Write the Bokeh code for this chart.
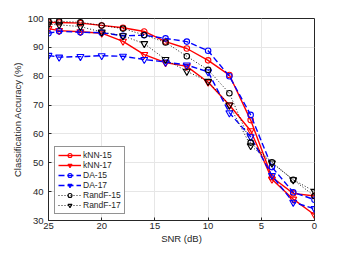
from bokeh.plotting import figure
from bokeh.models import Range1d, FixedTicker
from bokeh.embed import file_html
from bokeh.resources import INLINE

snr = [25, 24, 22, 20, 18, 16, 14, 12, 10, 8, 6, 4, 2, 0]
knn15 = [98.6, 98.6, 98.4, 97.6, 96.8, 95.5, 92.0, 89.6, 85.5, 80.4, 64.8, 45.0, 39.4, 38.5]
knn17 = [96.5, 95.8, 95.4, 94.9, 92.1, 87.5, 84.7, 83.4, 77.9, 70.0, 61.1, 44.3, 37.4, 32.0]
da15 = [94.9, 95.6, 95.2, 95.1, 94.0, 94.2, 93.1, 92.0, 88.8, 80.0, 66.6, 48.5, 39.8, 37.2]
da17 = [87.2, 86.6, 86.8, 87.1, 86.9, 85.8, 84.9, 83.9, 81.5, 67.3, 59.0, 45.6, 36.3, 34.1]
rf15 = [99.0, 99.0, 98.7, 97.6, 96.5, 94.3, 91.7, 86.9, 82.2, 74.1, 57.0, 50.2, 44.1, 38.5]
rf17 = [98.0, 97.8, 97.2, 95.3, 94.0, 91.3, 85.8, 81.7, 78.2, 70.0, 55.9, 49.9, 44.1, 40.1]

x_ticks = [25, 20, 15, 10, 5, 0]
y_ticks = [30, 40, 50, 60, 70, 80, 90, 100]

FONT = "Liberation Sans"
AX = "#262626"

p = figure(width=333, height=246, x_range=Range1d(25, 0), y_range=Range1d(30, 100),
           output_backend="svg", toolbar_location=None,
           min_border_left=48, min_border_right=19, min_border_top=18, min_border_bottom=24)

p.outline_line_color = AX
p.outline_line_width = 1
p.background_fill_color = "white"
p.border_fill_color = "white"

for ax in (p.xaxis[0], p.yaxis[0]):
    ax.axis_line_color = AX
    ax.major_tick_line_color = AX
    ax.major_tick_in = 3
    ax.major_tick_out = 0
    ax.minor_tick_line_color = None
    ax.major_label_text_font = FONT
    ax.major_label_text_font_size = "9.5px"
    ax.major_label_text_color = AX
    ax.axis_label_text_font = FONT
    ax.axis_label_text_font_size = "9.5px"
    ax.axis_label_text_font_style = "normal"
    ax.axis_label_text_color = AX

p.xaxis.ticker = FixedTicker(ticks=x_ticks)
p.yaxis.ticker = FixedTicker(ticks=y_ticks)
p.xaxis.axis_label = "SNR (dB)"
p.yaxis.axis_label = "Classification Accuracy (%)"
p.xaxis.major_label_standoff = 2
p.xaxis.axis_label_standoff = 1
p.yaxis.major_label_standoff = 5
p.yaxis.axis_label_standoff = 2

p.xgrid.ticker = FixedTicker(ticks=x_ticks)
p.ygrid.ticker = FixedTicker(ticks=y_ticks)
p.xgrid.grid_line_color = "#e6e6e6"
p.ygrid.grid_line_color = "#e6e6e6"

series = [
    ("kNN-15", knn15, "#ff0000", "solid", "circle", 5.5, 1.4),
    ("kNN-17", knn17, "#ff0000", "solid", "inverted_triangle", 7, 1.4),
    ("DA-15", da15, "#0000ff", "6 3", "circle", 5.5, 1.4),
    ("DA-17", da17, "#0000ff", "6 3", "inverted_triangle", 7, 1.4),
    ("RandF-15", rf15, "#000000", "1 2", "circle", 5.5, 0.9),
    ("RandF-17", rf17, "#000000", "1 2", "inverted_triangle", 7, 0.9),
]

for name, ys, col, dash, mk, sz, lw in series:
    p.line(snr, ys, line_color=col, line_dash=dash, line_width=lw, legend_label=name)
    p.scatter(snr, ys, marker=mk, size=sz, line_color=col, fill_color=None,
              line_width=1.1, legend_label=name)

lg = p.legend[0]
lg.location = "bottom_left"
lg.margin = 6
lg.padding = 3
lg.spacing = 0
lg.label_height = 10
lg.glyph_height = 10
lg.glyph_width = 23
lg.label_standoff = 2
lg.label_text_font = FONT
lg.label_text_font_size = "8.5px"
lg.label_text_color = AX
lg.border_line_color = AX
lg.border_line_width = 1
lg.background_fill_alpha = 1.0

open("out.html", "w").write(file_html(p, INLINE))
